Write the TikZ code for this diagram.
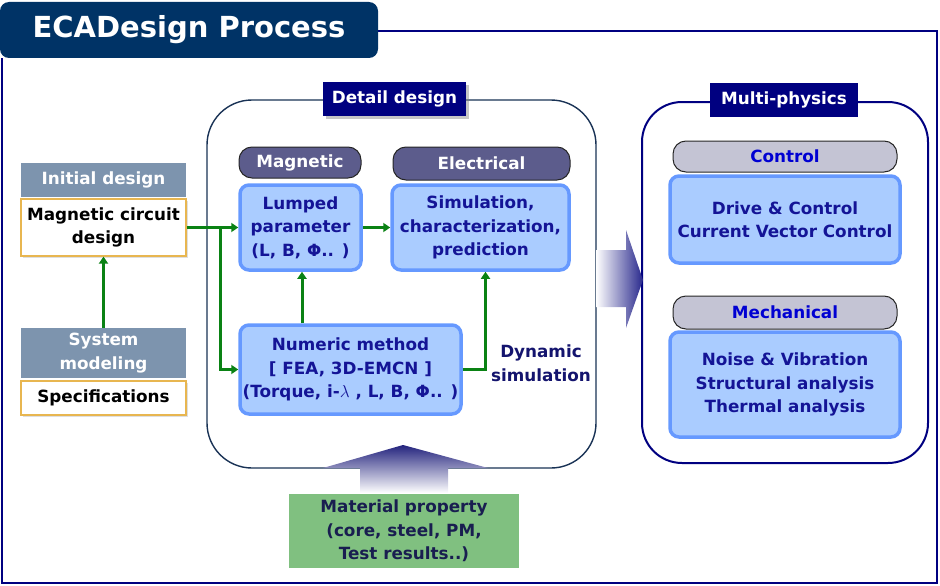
\documentclass[tikz,border=0pt]{standalone}
\usepackage{fontspec}
\setmainfont{DejaVu Sans}
\newfontfamily\titlefont{DejaVu Sans}
\usetikzlibrary{arrows.meta,shadows}
\definecolor{titleblue}{RGB}{0,51,102}
\definecolor{framenavy}{RGB}{0,0,128}
\definecolor{detailline}{RGB}{25,50,85}
\definecolor{lfill}{RGB}{170,204,255}
\definecolor{lborder}{RGB}{102,153,255}
\definecolor{ltext}{RGB}{20,20,150}
\definecolor{tabfill}{RGB}{92,92,140}
\definecolor{ctabfill}{RGB}{196,196,212}
\definecolor{ctext}{RGB}{0,0,210}
\definecolor{bandfill}{RGB}{125,148,174}
\definecolor{obox}{RGB}{232,182,80}
\definecolor{garrow}{RGB}{10,130,20}
\definecolor{matfill}{RGB}{128,192,128}
\definecolor{mattext}{RGB}{25,30,80}
\definecolor{dyntext}{RGB}{20,20,110}
\definecolor{arrdark}{RGB}{40,40,140}
\tikzset{
  x=1pt, y=-1pt,
  every node/.style={font=\bfseries\fontsize{16.8}{23.5}\selectfont, align=center, inner sep=0pt},
  lbox/.style={fill=lfill, draw=lborder, line width=3.5pt, rounded corners=9pt, text=ltext},
  tabbox/.style={fill=tabfill, draw=black!85, line width=1pt, rounded corners=13pt, text=white},
  ctabbox/.style={fill=ctabfill, draw=black!85, line width=1pt, rounded corners=13pt, text=ctext},
  band/.style={fill=bandfill, text=white, minimum width=165pt},
  obx/.style={fill=white, draw=obox, line width=1.2pt, text=black, minimum width=165pt, drop shadow={shadow xshift=1.5pt, shadow yshift=-1.5pt, opacity=0.25}},
  label/.style={fill=framenavy, text=white},
  garr/.style={draw=garrow, line width=3pt, -{Triangle[length=7pt,width=9pt]}},
}
\begin{document}
\begin{tikzpicture}
\useasboundingbox (0,0) rectangle (940,586);
% outer frame
\draw[framenavy, line width=2pt] (378,31) -- (937,31) -- (937,583) -- (2,583) -- (2,58);
\node[fill=titleblue, rounded corners=9pt, minimum width=378pt, minimum height=56pt, text=white, font=\titlefont\bfseries\fontsize{29}{34}\selectfont] (title) at (189,30) {ECADesign Process};

% detail design container
\draw[detailline, line width=1.4pt, rounded corners=45pt] (207,100) rectangle (596,468);
\node[label, minimum width=143pt, minimum height=34pt, drop shadow={shadow xshift=3pt, shadow yshift=-3pt, opacity=0.45}] (dlabel) at (394.5,99) {Detail design};

% multi-physics container
\draw[framenavy, line width=2pt, rounded corners=40pt] (642,102) rectangle (928,463);
\node[label, minimum width=148pt, minimum height=33pt] (mlabel) at (784,100) {Multi-physics};

% big right arrow
\shade[left color=white, right color=arrdark] (596,250) -- (626,250) -- (626,230) -- (643,280) -- (626,328) -- (626,307) -- (596,307) -- cycle;
% big up arrow
\shade[top color=arrdark!90!black, bottom color=white] (360,493) -- (360,468) -- (323,468) -- (403,445) -- (488,468) -- (448,468) -- (448,493) -- cycle;

% left column
\node[band, minimum height=34pt] (initial) at (103.5,180) {Initial design};
\node[obx, minimum height=57pt] (mcd) at (103.5,227.5) {Magnetic circuit\\design};
\node[band, minimum height=50pt] (sysmod) at (103.5,353) {System\\modeling};
\node[obx, minimum height=34pt] (spec) at (103.5,398) {Specifications};

% detail design content
\node[tabbox, minimum width=122pt, minimum height=31pt] (magtab) at (300,162.5) {Magnetic};
\node[tabbox, minimum width=177pt, minimum height=33pt] (eletab) at (481.5,163.5) {Electrical};
\node[lbox, minimum width=121pt, minimum height=85pt] (lump) at (300.5,227.5) {Lumped\\parameter\\(L, B, Φ.. )};
\node[lbox, minimum width=177pt, minimum height=85pt] (sim) at (480.5,227.5) {Simulation,\\characterization,\\prediction};
\node[lbox, minimum width=221pt, minimum height=89pt] (num) at (350.5,369.5) {Numeric method\\{[} FEA, 3D-EMCN {]}\\(Torque, i-$\lambda$ , L, B, Φ.. )};
\node[text=dyntext] (dyn) at (541,363) {Dynamic\\simulation};

% multi-physics content
\node[ctabbox, minimum width=224pt, minimum height=31pt] (ctrltab) at (785,156.5) {Control};
\node[lbox, minimum width=230pt, minimum height=87pt] (drive) at (785,219.5) {Drive \& Control\\Current Vector Control};
\node[ctabbox, minimum width=224pt, minimum height=33pt] (mechtab) at (785,312.5) {Mechanical};
\node[lbox, minimum width=230pt, minimum height=105pt] (noise) at (785,384.5) {Noise \& Vibration\\Structural analysis\\Thermal analysis};

% material property
\node[fill=matfill, text=mattext, minimum width=230pt, minimum height=74pt] (mat) at (404,531) {Material property\\(core, steel, PM,\\Test results..)};

% connectors
\coordinate (br) at (220,227.5);
\draw[garr] (sysmod.north) -- (mcd.south);
\draw[garr] (mcd.east) -- (lump.west);
\draw[garr] (br) |- (num.west);
\draw[garr] (lump.east) -- (sim.west);
\draw[garr] (num.north) ++(-48.5,0) coordinate (nup) -- (nup |- lump.south);
\coordinate (simin) at ([xshift=5pt]sim.south);
\draw[garr] (num.east) -| (simin);
\end{tikzpicture}
\end{document}
